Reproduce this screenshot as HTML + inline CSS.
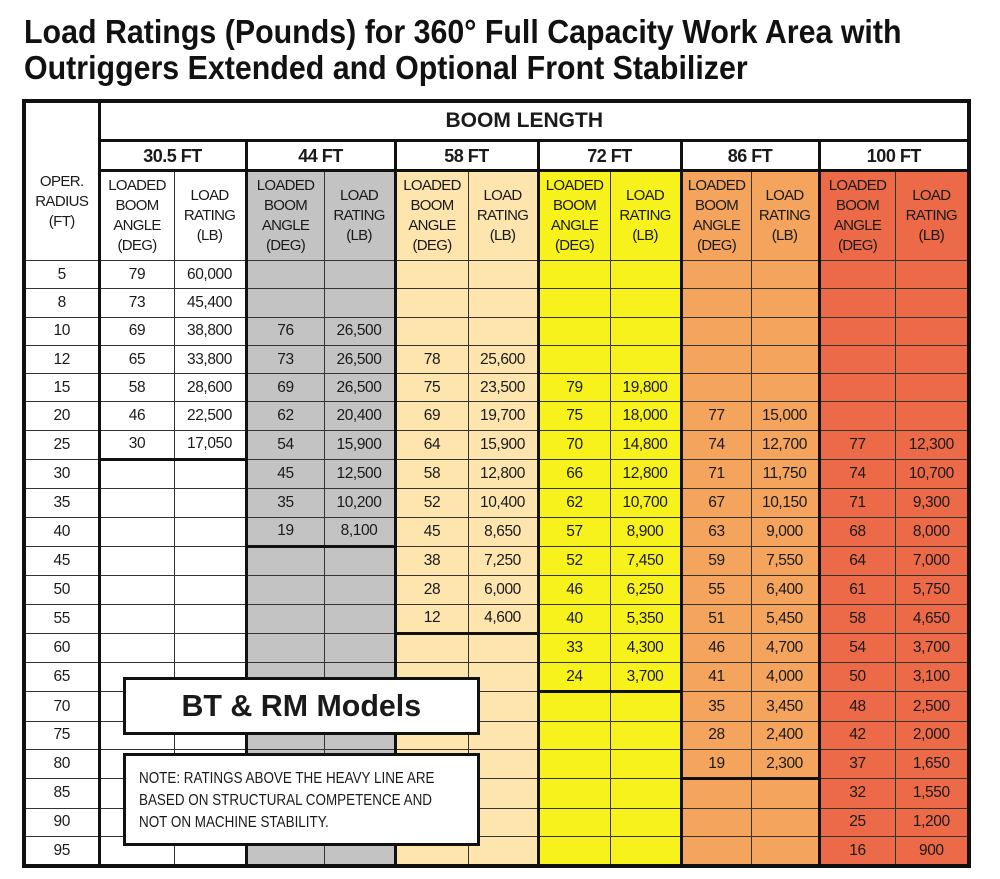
<!DOCTYPE html>
<html><head><meta charset="utf-8">
<style>
html,body{margin:0;padding:0;background:#fff;}
body{width:1000px;height:879px;position:relative;overflow:hidden;font-family:"Liberation Sans",sans-serif;color:#1a1a1a;}
.title{position:absolute;left:24px;top:14px;font-family:"Liberation Sans",sans-serif;font-weight:bold;font-size:33px;line-height:36px;color:#111;transform:scaleX(0.92);transform-origin:0 0;white-space:nowrap;}
table{position:absolute;left:22px;top:99px;border-collapse:collapse;table-layout:fixed;width:945px;border:4px solid #111;}
td{border:1px solid #333;text-align:center;font-size:15.5px;letter-spacing:-0.4px;padding:0;height:27.3px;line-height:16px;}
.L{border-left:3px solid #111;}
.H{border-bottom:3px solid #111;}
.w{background:#fff}.g{background:#c3c3c3}.b{background:#fde5ad}.y{background:#f8f21c}.o{background:#f4a45c}.rd{background:#ec6a47}
.hd td{font-size:15px;letter-spacing:-0.7px;line-height:20px;}
.bl{font-family:"Liberation Sans",sans-serif;font-weight:bold;font-size:21px;letter-spacing:0;height:36px;text-align:left;padding-left:345px;border-bottom:3px solid #111;}
.gh td{font-weight:bold;font-size:18px;letter-spacing:-0.5px;height:27px;border-bottom:3px solid #111;background:#fff;}
.box{position:absolute;left:123px;width:351px;background:#fff;border:3px solid #111;}
</style></head><body>
<div class="title">Load Ratings (Pounds) for 360° Full Capacity Work Area with<br>Outriggers Extended and Optional Front Stabilizer</div>
<table>
<colgroup><col style="width:75px"><col style="width:75px"><col style="width:72px"><col style="width:78px"><col style="width:71px"><col style="width:73px"><col style="width:70px"><col style="width:72px"><col style="width:71px"><col style="width:70px"><col style="width:68px"><col style="width:76px"><col style="width:74px"></colgroup>
<tr><td rowspan="3" style="vertical-align:middle;line-height:20px;padding-top:40px;font-size:15px;letter-spacing:-0.6px">OPER.<br>RADIUS<br>(FT)</td><td colspan="12" class="bl L">BOOM LENGTH</td></tr>
<tr class="gh"><td colspan="2" class="L">30.5 FT</td><td colspan="2" class="L">44 FT</td><td colspan="2" class="L">58 FT</td><td colspan="2" class="L">72 FT</td><td colspan="2" class="L">86 FT</td><td colspan="2" class="L">100 FT</td></tr>
<tr class="hd" style="height:90px"><td class="w L">LOADED<br>BOOM<br>ANGLE<br>(DEG)</td><td class="w">LOAD<br>RATING<br>(LB)</td><td class="g L">LOADED<br>BOOM<br>ANGLE<br>(DEG)</td><td class="g">LOAD<br>RATING<br>(LB)</td><td class="b L">LOADED<br>BOOM<br>ANGLE<br>(DEG)</td><td class="b">LOAD<br>RATING<br>(LB)</td><td class="y L">LOADED<br>BOOM<br>ANGLE<br>(DEG)</td><td class="y">LOAD<br>RATING<br>(LB)</td><td class="o L">LOADED<br>BOOM<br>ANGLE<br>(DEG)</td><td class="o">LOAD<br>RATING<br>(LB)</td><td class="rd L">LOADED<br>BOOM<br>ANGLE<br>(DEG)</td><td class="rd">LOAD<br>RATING<br>(LB)</td></tr>
<tr><td>5</td><td class="w L">79</td><td class="w">60,000</td><td class="g L"></td><td class="g"></td><td class="b L"></td><td class="b"></td><td class="y L"></td><td class="y"></td><td class="o L"></td><td class="o"></td><td class="rd L"></td><td class="rd"></td></tr>
<tr><td>8</td><td class="w L">73</td><td class="w">45,400</td><td class="g L"></td><td class="g"></td><td class="b L"></td><td class="b"></td><td class="y L"></td><td class="y"></td><td class="o L"></td><td class="o"></td><td class="rd L"></td><td class="rd"></td></tr>
<tr><td>10</td><td class="w L">69</td><td class="w">38,800</td><td class="g L">76</td><td class="g">26,500</td><td class="b L"></td><td class="b"></td><td class="y L"></td><td class="y"></td><td class="o L"></td><td class="o"></td><td class="rd L"></td><td class="rd"></td></tr>
<tr><td>12</td><td class="w L">65</td><td class="w">33,800</td><td class="g L">73</td><td class="g">26,500</td><td class="b L">78</td><td class="b">25,600</td><td class="y L"></td><td class="y"></td><td class="o L"></td><td class="o"></td><td class="rd L"></td><td class="rd"></td></tr>
<tr><td>15</td><td class="w L">58</td><td class="w">28,600</td><td class="g L">69</td><td class="g">26,500</td><td class="b L">75</td><td class="b">23,500</td><td class="y L">79</td><td class="y">19,800</td><td class="o L"></td><td class="o"></td><td class="rd L"></td><td class="rd"></td></tr>
<tr><td>20</td><td class="w L">46</td><td class="w">22,500</td><td class="g L">62</td><td class="g">20,400</td><td class="b L">69</td><td class="b">19,700</td><td class="y L">75</td><td class="y">18,000</td><td class="o L">77</td><td class="o">15,000</td><td class="rd L"></td><td class="rd"></td></tr>
<tr><td>25</td><td class="w L H">30</td><td class="w H">17,050</td><td class="g L">54</td><td class="g">15,900</td><td class="b L">64</td><td class="b">15,900</td><td class="y L">70</td><td class="y">14,800</td><td class="o L">74</td><td class="o">12,700</td><td class="rd L">77</td><td class="rd">12,300</td></tr>
<tr><td>30</td><td class="w L"></td><td class="w"></td><td class="g L">45</td><td class="g">12,500</td><td class="b L">58</td><td class="b">12,800</td><td class="y L">66</td><td class="y">12,800</td><td class="o L">71</td><td class="o">11,750</td><td class="rd L">74</td><td class="rd">10,700</td></tr>
<tr><td>35</td><td class="w L"></td><td class="w"></td><td class="g L">35</td><td class="g">10,200</td><td class="b L">52</td><td class="b">10,400</td><td class="y L">62</td><td class="y">10,700</td><td class="o L">67</td><td class="o">10,150</td><td class="rd L">71</td><td class="rd">9,300</td></tr>
<tr><td>40</td><td class="w L"></td><td class="w"></td><td class="g L H">19</td><td class="g H">8,100</td><td class="b L">45</td><td class="b">8,650</td><td class="y L">57</td><td class="y">8,900</td><td class="o L">63</td><td class="o">9,000</td><td class="rd L">68</td><td class="rd">8,000</td></tr>
<tr><td>45</td><td class="w L"></td><td class="w"></td><td class="g L"></td><td class="g"></td><td class="b L">38</td><td class="b">7,250</td><td class="y L">52</td><td class="y">7,450</td><td class="o L">59</td><td class="o">7,550</td><td class="rd L">64</td><td class="rd">7,000</td></tr>
<tr><td>50</td><td class="w L"></td><td class="w"></td><td class="g L"></td><td class="g"></td><td class="b L">28</td><td class="b">6,000</td><td class="y L">46</td><td class="y">6,250</td><td class="o L">55</td><td class="o">6,400</td><td class="rd L">61</td><td class="rd">5,750</td></tr>
<tr><td>55</td><td class="w L"></td><td class="w"></td><td class="g L"></td><td class="g"></td><td class="b L H">12</td><td class="b H">4,600</td><td class="y L">40</td><td class="y">5,350</td><td class="o L">51</td><td class="o">5,450</td><td class="rd L">58</td><td class="rd">4,650</td></tr>
<tr><td>60</td><td class="w L"></td><td class="w"></td><td class="g L"></td><td class="g"></td><td class="b L"></td><td class="b"></td><td class="y L">33</td><td class="y">4,300</td><td class="o L">46</td><td class="o">4,700</td><td class="rd L">54</td><td class="rd">3,700</td></tr>
<tr><td>65</td><td class="w L"></td><td class="w"></td><td class="g L"></td><td class="g"></td><td class="b L"></td><td class="b"></td><td class="y L H">24</td><td class="y H">3,700</td><td class="o L">41</td><td class="o">4,000</td><td class="rd L">50</td><td class="rd">3,100</td></tr>
<tr><td>70</td><td class="w L"></td><td class="w"></td><td class="g L"></td><td class="g"></td><td class="b L"></td><td class="b"></td><td class="y L"></td><td class="y"></td><td class="o L">35</td><td class="o">3,450</td><td class="rd L">48</td><td class="rd">2,500</td></tr>
<tr><td>75</td><td class="w L"></td><td class="w"></td><td class="g L"></td><td class="g"></td><td class="b L"></td><td class="b"></td><td class="y L"></td><td class="y"></td><td class="o L">28</td><td class="o">2,400</td><td class="rd L">42</td><td class="rd">2,000</td></tr>
<tr><td>80</td><td class="w L"></td><td class="w"></td><td class="g L"></td><td class="g"></td><td class="b L"></td><td class="b"></td><td class="y L"></td><td class="y"></td><td class="o L H">19</td><td class="o H">2,300</td><td class="rd L">37</td><td class="rd">1,650</td></tr>
<tr><td>85</td><td class="w L"></td><td class="w"></td><td class="g L"></td><td class="g"></td><td class="b L"></td><td class="b"></td><td class="y L"></td><td class="y"></td><td class="o L"></td><td class="o"></td><td class="rd L">32</td><td class="rd">1,550</td></tr>
<tr><td>90</td><td class="w L"></td><td class="w"></td><td class="g L"></td><td class="g"></td><td class="b L"></td><td class="b"></td><td class="y L"></td><td class="y"></td><td class="o L"></td><td class="o"></td><td class="rd L">25</td><td class="rd">1,200</td></tr>
<tr><td>95</td><td class="w L"></td><td class="w"></td><td class="g L"></td><td class="g"></td><td class="b L"></td><td class="b"></td><td class="y L"></td><td class="y"></td><td class="o L"></td><td class="o"></td><td class="rd L">16</td><td class="rd">900</td></tr>
</table>
<div class="box" style="top:677px;height:52px;text-align:center;font-family:'Liberation Sans',sans-serif;font-weight:bold;font-size:31px;line-height:52px;"><span style="display:inline-block;transform:scaleX(0.98)">BT &amp; RM Models</span></div>
<div class="box" style="top:753px;height:87px;font-size:16px;line-height:22px;"><div style="padding:12px 0 0 13px;white-space:nowrap;transform:scaleX(0.84);transform-origin:13px 0">NOTE: RATINGS ABOVE THE HEAVY LINE ARE<br>BASED ON STRUCTURAL COMPETENCE AND<br>NOT ON MACHINE STABILITY.</div></div>
</body></html>
